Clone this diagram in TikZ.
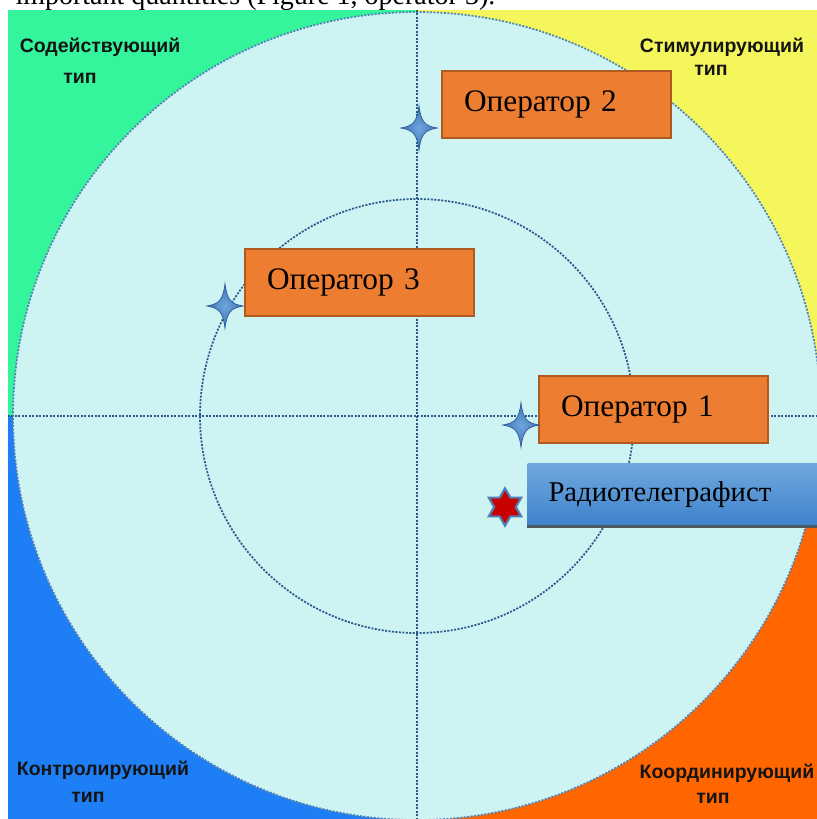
\documentclass[tikz,border=0pt]{standalone}
\usepackage{fontspec}
\setmainfont{Liberation Serif}
\newfontfamily\typefont{Liberation Sans}
\usetikzlibrary{shapes.geometric}

\definecolor{helpgreen}{RGB}{52,245,155}
\definecolor{stimyellow}{RGB}{244,246,92}
\definecolor{ctrlblue}{RGB}{30,126,245}
\definecolor{coordorange}{RGB}{255,102,0}
\definecolor{fieldcyan}{RGB}{205,243,243}
\definecolor{gridblue}{RGB}{40,88,140}
\definecolor{rimblue}{RGB}{80,130,182}
\definecolor{opfill}{RGB}{237,125,49}
\definecolor{opedge}{RGB}{174,90,33}
\definecolor{radiotop}{RGB}{112,168,222}
\definecolor{radiobot}{RGB}{62,130,203}
\definecolor{radioshade}{RGB}{74,90,96}
\definecolor{sparkfill}{RGB}{62,115,180}
\definecolor{sparklight}{RGB}{110,165,220}
\definecolor{sparkedge}{RGB}{50,95,155}
\definecolor{davidred}{RGB}{200,0,0}
\definecolor{davidedge}{RGB}{79,125,180}

\tikzset{every picture/.style={line width=0.75pt},
  gridline/.style={draw=gridblue, line width=1.3pt, dash pattern=on 1.5pt off 1.1pt},
  rimline/.style={draw=rimblue, line width=1.3pt, dash pattern=on 1.5pt off 1.1pt},
  opbox/.style={draw=opedge, line width=1.5pt, fill=opfill, anchor=north west,
    text width=138.75pt, inner xsep=16.5pt, minimum height=50.25pt, align=left,
    font=\fontsize{23.5}{28}\selectfont},
  radiobox/.style={top color=radiotop, bottom color=radiobot, anchor=north west,
    text width=186pt, inner xsep=15.75pt, minimum height=46.5pt, align=left,
    font=\fontsize{21.5}{26}\selectfont},
  cornerlabel/.style={font=\typefont\bfseries\fontsize{14.6}{17}\selectfont,
    text=black!92, inner sep=0pt, anchor=base},
  hexstar/.style={star, star points=6, star point ratio=1.73, minimum size=28pt,
    inner sep=0pt, fill=davidred, draw=davidedge, line width=1.6pt},
  sparkle/.pic={
    \shadedraw[inner color=sparklight, outer color=sparkfill, draw=sparkedge, line width=0.6pt]
      (0,-22) .. controls (2,-6) and (6,-2) .. (18,0) .. controls (6,2) and (2,6) .. (0,22)
      .. controls (-2,6) and (-6,2) .. (-18,0) .. controls (-6,-2) and (-2,-6) .. (0,-22) -- cycle ;
  }
}

\begin{document}
\begin{tikzpicture}[x=0.75pt,y=0.75pt,yscale=-1,xscale=1]
        \useasboundingbox (0,0) rectangle (817,819);
        
        %Text cut at the top of the page
        \begin{scope}
        \clip (0,0) rectangle (817,10);
        \node[anchor=base west, inner sep=0pt, font=\fontsize{21}{25}\selectfont] (caption) at (15,4) {important quantities (Figure 1, operator 3).};
        \end{scope}
        
        %Shape: Quadrants
        \fill[helpgreen] (8,10) rectangle (417,416);
        \fill[stimyellow] (417,10) rectangle (817,416);
        \fill[ctrlblue] (8,416) rectangle (417,819);
        \fill[coordorange] (417,416) rectangle (817,819);
        %Shape: Circle
        \fill[fieldcyan] (417,416) circle (303pt);
        \draw[rimline] (417,416) circle (303pt);
        %Shape: Circle
        \draw[gridline] (417,416) circle (162.75pt);
        %Straight Lines
        \draw[gridline] (417,10) -- (417,819);
        \draw[gridline] (8,416) -- (817,416);
        
        \node[opbox] (op2) at (441,70) {Оператор 2};
        \node[opbox] (op3) at (244,248) {Оператор 3};
        \node[opbox] (op1) at (538,375) {Оператор 1};
        \node[radiobox] (radio) at (527,463) {Радиотелеграфист};
        \draw[radioshade, line width=2.25pt] (radio.south west) -- (radio.south east);
        
        %Shape: Stars
        \coordinate (s2) at (419,128);
        \coordinate (s3) at (225,306);
        \coordinate (s1) at (521,425);
        \pic at (s2) {sparkle};
        \pic at (s3) {sparkle};
        \pic at (s1) {sparkle};
        \node[hexstar] (radiomark) at (505,507) {};
        
        \node[cornerlabel] (helpname) at (100,52) {Содействующий};
        \node[cornerlabel] (helptype) at (80,83) {тип};
        \node[cornerlabel] (stimname) at (722,52) {Стимулирующий};
        \node[cornerlabel] (stimtype) at (711,75) {тип};
        \node[cornerlabel] (ctrlname) at (103,775) {Контролирующий};
        \node[cornerlabel] (ctrltype) at (88,802) {тип};
        \node[cornerlabel] (coordname) at (727,778) {Координирующий};
        \node[cornerlabel] (coordtype) at (713,803) {тип};

    \end{tikzpicture}
\end{document}
